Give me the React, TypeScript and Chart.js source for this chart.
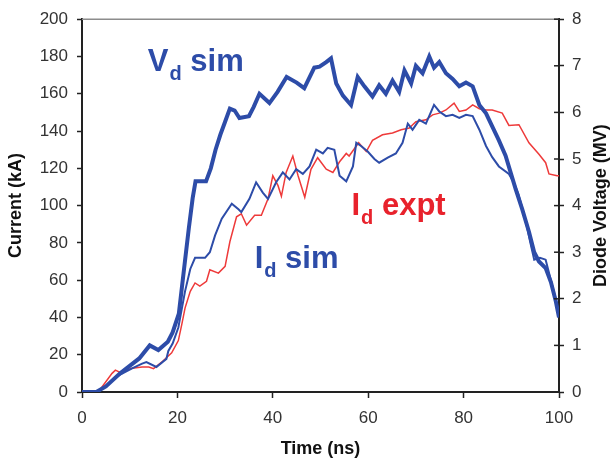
import React, { useEffect, useRef } from "react";
import { Chart, registerables } from "chart.js";

Chart.register(...registerables);

// Time axis (ns) samples and values
const VD_TIME = [0, 3, 5, 8, 10, 12, 14.2, 16, 18, 19, 20.3, 21.3, 22.4, 23.2, 23.8, 26, 27, 28, 29, 30, 31, 32, 33, 35, 36, 37.2, 39.3, 41, 42.9, 45, 46.6, 48.7, 49.8, 51.2, 52.2, 53.3, 54.7, 56.4, 57.8, 59.2, 60.9, 62.3, 63.7, 65.1, 66.5, 67.6, 69, 70, 71.4, 72.8, 73.8, 74.9, 76.3, 77.7, 79.1, 80.5, 81.9, 83.3, 84.7, 86, 87.4, 88.8, 90.9, 92.3, 93.7, 94.8, 95.8, 97.2, 98.3, 99.3, 100];
// Diode voltage, simulated (MV)
const VD_SIM = [0, 0, 0.12, 0.4, 0.56, 0.72, 1.0, 0.9, 1.08, 1.28, 1.68, 2.56, 3.52, 4.16, 4.52, 4.52, 4.8, 5.2, 5.52, 5.8, 6.08, 6.04, 5.88, 5.92, 6.12, 6.4, 6.2, 6.44, 6.76, 6.64, 6.52, 6.96, 6.98, 7.08, 7.16, 6.62, 6.36, 6.16, 6.76, 6.56, 6.34, 6.58, 6.4, 6.68, 6.44, 6.9, 6.62, 7.0, 6.84, 7.2, 6.96, 7.08, 6.84, 6.72, 6.56, 6.64, 6.56, 6.16, 5.98, 5.7, 5.4, 5.07, 4.36, 3.92, 3.44, 3.0, 2.8, 2.66, 2.36, 1.96, 1.6];

const ID_SIM_TIME = [0, 3, 5, 7, 10.5, 12.6, 13.5, 15.6, 17.7, 18.1, 19, 20.2, 21.6, 22.7, 23.7, 25.8, 26.8, 27.9, 29.3, 31.4, 32.8, 33.4, 35.1, 36.5, 37.9, 39, 40.7, 42.1, 43.5, 44.9, 46.3, 47.7, 49.1, 50.5, 51.5, 52.9, 54, 55.4, 56.8, 57.5, 58.5, 59.9, 61.3, 62.3, 64.1, 65.8, 67.2, 68.3, 69.3, 70.7, 72.1, 73.8, 74.9, 76.3, 77.7, 79.1, 80.5, 81.9, 83.3, 84.7, 86, 87.4, 89.5, 90.6, 91.5, 93, 94, 94.8, 96, 97.2, 98.3, 99.3, 100];
// Diode current, simulated (kA)
const ID_SIM = [0, 0, 3, 8, 12.7, 15.2, 16, 13.4, 17.8, 22, 26, 34.6, 54, 66, 72, 72, 75, 84, 93, 101, 98, 96.5, 103.6, 112.5, 107, 103.6, 112.5, 117.8, 114, 119.5, 117, 121, 130, 128, 131, 130, 116, 113, 121, 133.7, 132, 129, 125, 123, 125.7, 128, 133.7, 144, 140.7, 146, 144, 154, 150.5, 148, 148.7, 147, 148.7, 148, 140.7, 132, 126, 121, 117, 112, 106, 92, 80, 71, 72, 71, 60, 50, 42];

const ID_EXPT_TIME = [0, 3, 4, 6.3, 7, 8, 10.5, 12.6, 14, 15, 16.7, 18.8, 20.2, 20.9, 21.6, 22.7, 23.7, 24.7, 26.1, 26.8, 28.6, 30, 31, 32.4, 33.4, 34.5, 36.2, 37.6, 39, 40, 41.1, 41.8, 42.8, 44.2, 45.3, 46.7, 48, 49.4, 51.2, 52.6, 54, 55.4, 56, 58, 59.6, 60.9, 63, 65.1, 66.9, 68.6, 70, 72.1, 73.5, 74.9, 76.3, 78, 79.1, 80.5, 81.9, 83.3, 84.7, 86, 88.1, 89.5, 91.6, 93.7, 95.8, 97.2, 97.9, 99.6, 100];
// Diode current, experiment (kA)
const ID_EXPT = [0, 0, 2, 10, 11.7, 10.5, 12.7, 13.4, 13.4, 12.5, 16, 21, 27.6, 36, 45, 54, 58.5, 56.8, 59.4, 65.6, 63.8, 67.4, 80.6, 94, 95.6, 89.5, 94.8, 94.8, 103.6, 116, 110.7, 105, 117.8, 126.6, 116, 104.5, 119.5, 125.7, 119.5, 117.8, 123.5, 128, 126.6, 133.7, 129, 135, 138, 139, 140.7, 141.6, 145, 146, 148.7, 149.6, 151.3, 155, 150.5, 151.3, 154, 152, 151.3, 151.3, 149.6, 143, 143.4, 133.7, 127.5, 123, 117, 116, 116];

const BLUE = "#2d4ca8";
const RED_LINE = "#ee3a3a";
const RED_TEXT = "#e8222c";
const TICK_FONT = { family: "'Liberation Sans', Arial, sans-serif", size: 17 };
const TITLE_FONT = "bold 18px 'Liberation Sans', Arial, sans-serif";

function pts(t: number[], v: number[]) {
  return t.map((x, i) => ({ x, y: v[i] }));
}

function drawLabel(ctx: CanvasRenderingContext2D, x: number, y: number, main: string, sub: string, rest: string, color: string) {
  ctx.fillStyle = color;
  ctx.textAlign = "left";
  ctx.textBaseline = "alphabetic";
  ctx.font = "bold 31px 'Liberation Sans', Arial, sans-serif";
  ctx.fillText(main, x, y);
  let cx = x + ctx.measureText(main).width + 1;
  ctx.font = "bold 20px 'Liberation Sans', Arial, sans-serif";
  ctx.fillText(sub, cx, y + 9);
  cx += ctx.measureText(sub).width;
  ctx.font = "bold 31px 'Liberation Sans', Arial, sans-serif";
  ctx.fillText(rest, cx, y);
}

const overlay = {
  id: "overlay",
  afterDraw(chart: any) {
    const { ctx, chartArea: a, scales } = chart;
    ctx.save();
    // top frame line
    ctx.strokeStyle = "#8c8c8c";
    ctx.lineWidth = 1.5;
    ctx.beginPath();
    ctx.moveTo(a.left, a.top);
    ctx.lineTo(a.right, a.top);
    ctx.stroke();
    // inward half of right-axis cross ticks
    ctx.strokeStyle = "#222";
    ctx.lineWidth = 1.5;
    const y1 = scales.y1;
    y1.ticks.forEach((t: any) => {
      const py = y1.getPixelForValue(t.value);
      ctx.beginPath();
      ctx.moveTo(a.right - 5, py);
      ctx.lineTo(a.right, py);
      ctx.stroke();
    });
    // axis titles
    ctx.fillStyle = "#111";
    ctx.font = TITLE_FONT;
    ctx.textAlign = "center";
    ctx.textBaseline = "middle";
    const cy = (a.top + a.bottom) / 2;
    ctx.fillText("Time (ns)", (a.left + a.right) / 2, 449);
    ctx.save();
    ctx.translate(16, cy);
    ctx.rotate(-Math.PI / 2);
    ctx.fillText("Current (kA)", 0, 0);
    ctx.restore();
    ctx.save();
    ctx.translate(601, cy);
    ctx.rotate(-Math.PI / 2);
    ctx.fillText("Diode Voltage (MV)", 0, 0);
    ctx.restore();
    // series labels
    const x = scales.x;
    const y = scales.y;
    drawLabel(ctx, x.getPixelForValue(13.8), y.getPixelForValue(172.4), "V", "d", " sim", BLUE);
    drawLabel(ctx, x.getPixelForValue(36.2), y.getPixelForValue(66.3), "I", "d", " sim", BLUE);
    drawLabel(ctx, x.getPixelForValue(56.5), y.getPixelForValue(95), "I", "d", " expt", RED_TEXT);
    ctx.restore();
  },
};

export default function App() {
  const ref = useRef<HTMLCanvasElement | null>(null);
  useEffect(() => {
    if (!ref.current) return;
    const chart = new Chart(ref.current, {
      type: "line",
      data: {
        datasets: [
          {
            label: "Vd sim",
            data: pts(VD_TIME, VD_SIM),
            yAxisID: "y1",
            borderColor: BLUE,
            borderWidth: 4,
            pointRadius: 0,
            tension: 0,
          },
          {
            label: "Id sim",
            data: pts(ID_SIM_TIME, ID_SIM),
            yAxisID: "y",
            borderColor: BLUE,
            borderWidth: 2,
            pointRadius: 0,
            tension: 0,
          },
          {
            label: "Id expt",
            data: pts(ID_EXPT_TIME, ID_EXPT),
            yAxisID: "y",
            borderColor: RED_LINE,
            borderWidth: 1.5,
            pointRadius: 0,
            tension: 0,
          },
        ],
      },
      options: {
        responsive: false,
        animation: false,
        layout: { padding: { top: 15, left: 0, right: 0, bottom: 0 } },
        plugins: { legend: { display: false }, tooltip: { enabled: false } },
        scales: {
          x: {
            type: "linear",
            min: 0,
            max: 100,
            ticks: { stepSize: 20, font: TICK_FONT, color: "#333", padding: 10, maxRotation: 0 },
            grid: { drawOnChartArea: false, tickLength: 6, color: "#222", tickWidth: 1.5 },
            border: { color: "#222", width: 2 },
            afterFit: (s: any) => { s.height = 69; },
          },
          y: {
            position: "left",
            min: 0,
            max: 200,
            ticks: { stepSize: 20, font: TICK_FONT, color: "#333", padding: 9 },
            grid: { drawOnChartArea: false, tickLength: 5, color: "#222", tickWidth: 1.5 },
            border: { color: "#222", width: 2 },
            afterFit: (s: any) => { s.width = 82; },
          },
          y1: {
            position: "right",
            min: 0,
            max: 8,
            ticks: { stepSize: 1, font: TICK_FONT, color: "#333", padding: 8 },
            grid: { drawOnChartArea: false, tickLength: 5, color: "#222", tickWidth: 1.5 },
            border: { color: "#222", width: 2 },
            afterFit: (s: any) => { s.width = 52; },
          },
        },
      },
      plugins: [overlay],
    });
    return () => chart.destroy();
  }, []);
  return (
    <div style={{ position: "fixed", left: 0, top: 0, width: 611, height: 461, background: "#fff" }}>
      <canvas ref={ref} width={611} height={461} style={{ width: 611, height: 461 }} />
    </div>
  );
}
